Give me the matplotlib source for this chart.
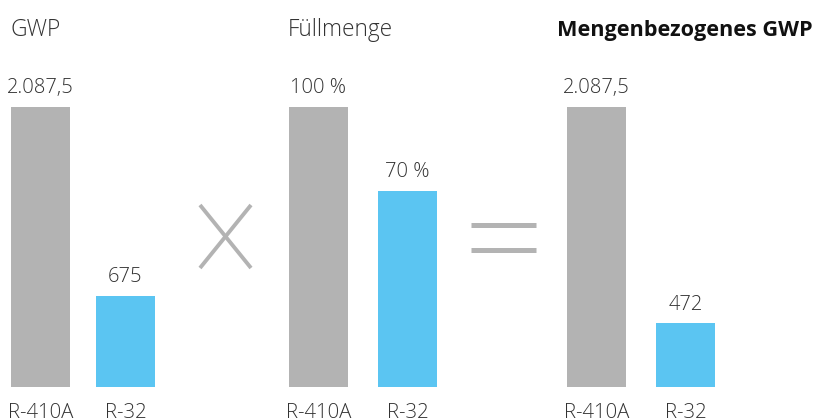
import matplotlib
matplotlib.use("Agg")
import matplotlib.pyplot as plt
from matplotlib.lines import Line2D

plt.rcParams['font.family'] = ['Open Sans', 'DejaVu Sans']

# -------------------------------
# data
# -------------------------------
refrigerants = ["R-410A", "R-32"]
gwp = [2087.5, 675]
fuellmenge = [100, 70]
gwp_mengenbezogen = [2087.5, 472]

gwp_labels = ["2.087,5", "675"]
fuell_labels = ["100 %", "70 %"]
mgwp_labels = ["2.087,5", "472"]

titles = ["GWP", "Füllmenge", "Mengenbezogenes GWP"]

GRAY = "#b3b3b3"
BLUE = "#5bc5f2"
TEXT = "#333333"

W, H = 818, 419
fig = plt.figure(figsize=(W / 100, H / 100), dpi=100)

bottom_px, top_px = 386.7, 107
lefts = [11, 289, 567]
steps = [85, 89, 89]   # distance between the two bars (px)
bar_px = 59

panels = [(gwp, gwp_labels, 2087.5), (fuellmenge, fuell_labels, 100),
          (gwp_mengenbezogen, mgwp_labels, 2087.5)]

for i, (vals, labels, ymax) in enumerate(panels):
    bar_w = bar_px / steps[i]
    ax = fig.add_axes([lefts[i] / W, (H - bottom_px) / H,
                       (steps[i] + bar_px) / W, (bottom_px - top_px) / H])
    bars = ax.bar([0, 1], vals, width=bar_w, color=[GRAY, BLUE])
    ax.set_xlim(-bar_w / 2, 1 + bar_w / 2)
    ax.set_ylim(0, ymax)
    for b, lab in zip(bars, labels):
        ax.annotate(lab, (b.get_x() + b.get_width() / 2, b.get_height()),
                    xytext=(0, 10), textcoords="offset points",
                    ha="center", va="baseline", fontsize=14.5,
                    fontweight="light", color=TEXT)
    ax.set_xticks([0, 1])
    ax.set_xticklabels(refrigerants, fontsize=14.7, fontweight="light", color=TEXT)
    ax.tick_params(axis="x", length=0, pad=12)
    ax.set_yticks([])
    for s in ax.spines.values():
        s.set_visible(False)

# titles
fig.text(10 / W, 1 - 36 / H, titles[0], fontsize=16.5, fontweight="light",
         color=TEXT, va="baseline")
fig.text(288 / W, 1 - 36 / H, titles[1], fontsize=16.3, fontweight="light",
         color=TEXT, va="baseline")
fig.text(557 / W, 1 - 36 / H, titles[2], fontsize=15.6, fontweight="bold",
         color="#111111", va="baseline")

# operators: "X" and "="
for xs, ys in (([200, 251], [205, 268]), ([251, 200], [205, 268])):
    fig.add_artist(Line2D([x / W for x in xs], [1 - y / H for y in ys],
                          transform=fig.transFigure, color=GRAY,
                          linewidth=2.8, solid_capstyle="butt"))
for y in (225, 250):
    fig.add_artist(Line2D([471 / W, 536 / W], [1 - y / H, 1 - y / H],
                          transform=fig.transFigure, color=GRAY,
                          linewidth=3.6, solid_capstyle="butt"))

fig.savefig("out.png", dpi=100)
